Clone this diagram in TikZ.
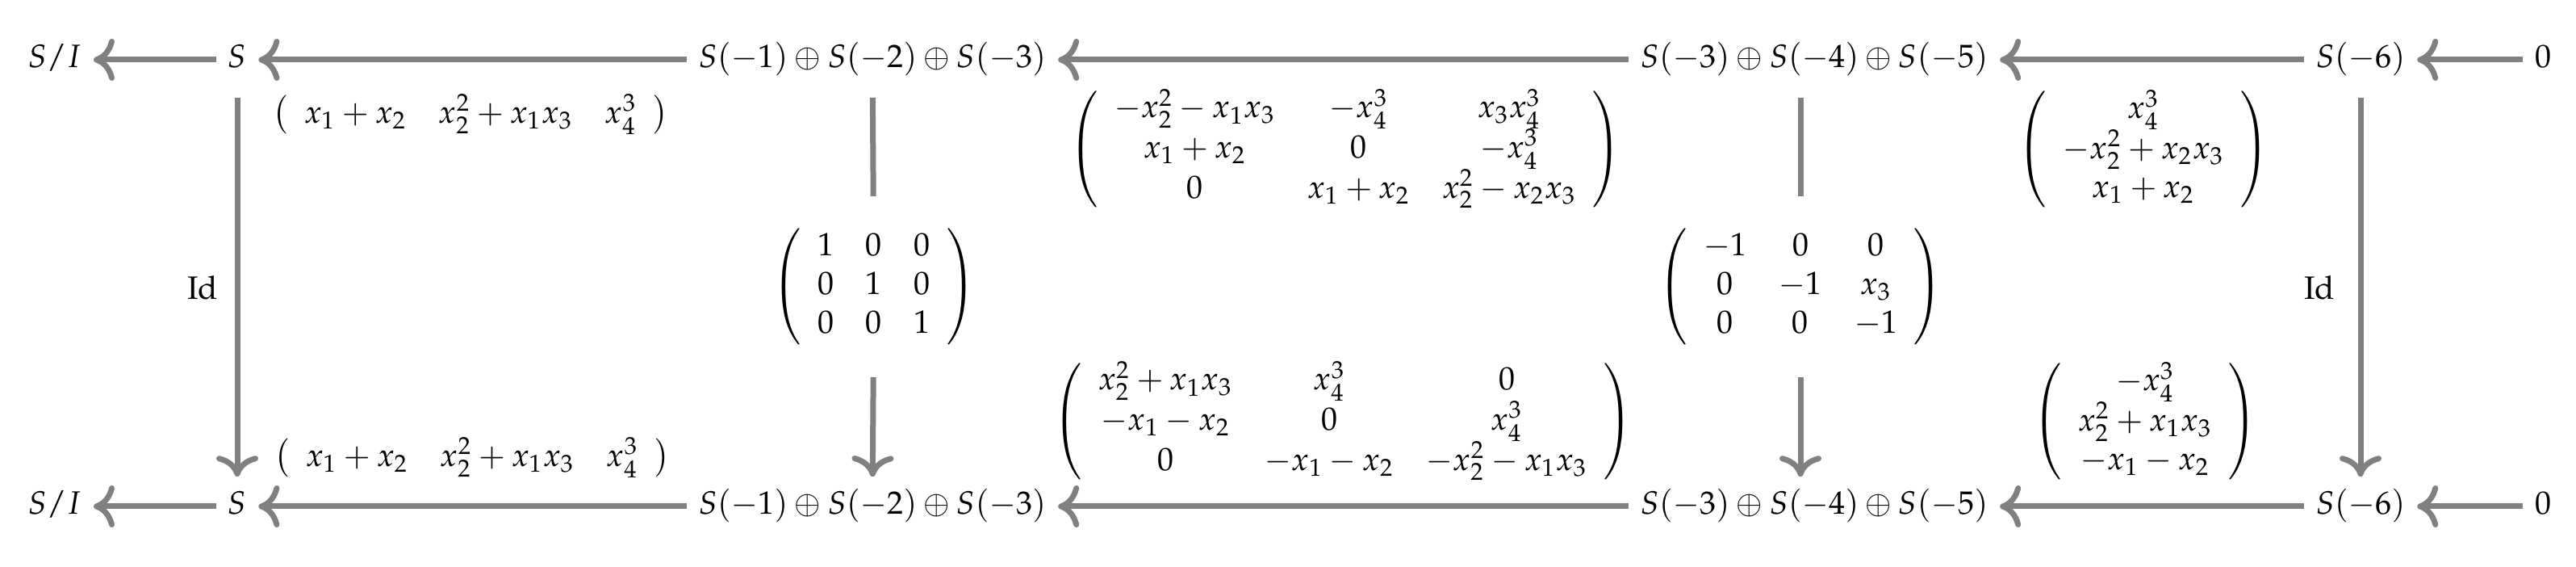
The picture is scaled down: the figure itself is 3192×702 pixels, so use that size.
\documentclass[tikz,border=0pt]{standalone}
\usepackage{amsmath,amssymb}
\usepackage[T1]{fontenc}
\usepackage{mathpazo}
\usetikzlibrary{arrows.meta,positioning,calc}

\begin{document}
\begin{tikzpicture}[x=0.25pt,y=0.25pt,
    >={Computer Modern Rightarrow[length=6.5pt,width=13pt]},
    map/.style={draw=gray,line width=1.75pt},
    obj/.style={text height=8pt,text depth=3pt,inner sep=3.5pt},
    lbl/.style={inner sep=0pt},
    mat/.style={inner sep=0pt,outer sep=10pt}]
  \useasboundingbox (0,0) rectangle (3192,-702);
  % top row
  \node[obj] (t0) at (68,-74) {$S/I$};
  \node[obj] (t1) at (294,-74) {$S$};
  \node[obj] (t2) at (1081,-74) {$S(-1)\oplus S(-2)\oplus S(-3)$};
  \node[obj] (t3) at (2248,-74) {$S(-3)\oplus S(-4)\oplus S(-5)$};
  \node[obj] (t4) at (2925,-74) {$S(-6)$};
  \node[obj] (t5) at (3151,-74) {$0$};
  % bottom row
  \node[obj] (b0) at (68,-627) {$S/I$};
  \node[obj] (b1) at (294,-627) {$S$};
  \node[obj] (b2) at (1081,-627) {$S(-1)\oplus S(-2)\oplus S(-3)$};
  \node[obj] (b3) at (2248,-627) {$S(-3)\oplus S(-4)\oplus S(-5)$};
  \node[obj] (b4) at (2925,-627) {$S(-6)$};
  \node[obj] (b5) at (3151,-627) {$0$};
  % horizontal maps
  \foreach \a/\b in {t1/t0,t2/t1,t3/t2,t4/t3,t5/t4,b1/b0,b2/b1,b3/b2,b4/b3,b5/b4}
    \draw[map,->] (\a) -- (\b);
  \node[lbl] (dt1) at (583,-142) {$\left(\begin{array}{ccc} x_1+x_2 & x_2^2+x_1x_3 & x_4^3 \end{array}\right)$};
  \node[lbl] (dt2) at (1667,-185) {$\left(\begin{array}{ccc} -x_2^2-x_1x_3 & -x_4^3 & x_3x_4^3\\ x_1+x_2 & 0 & -x_4^3\\ 0 & x_1+x_2 & x_2^2-x_2x_3 \end{array}\right)$};
  \node[lbl] (dt3) at (2656,-185) {$\left(\begin{array}{c} x_4^3\\ -x_2^2+x_2x_3\\ x_1+x_2 \end{array}\right)$};
  \node[lbl] (db1) at (585,-567) {$\left(\begin{array}{ccc} x_1+x_2 & x_2^2+x_1x_3 & x_4^3 \end{array}\right)$};
  \node[lbl] (db2) at (1664,-522) {$\left(\begin{array}{ccc} x_2^2+x_1x_3 & x_4^3 & 0\\ -x_1-x_2 & 0 & x_4^3\\ 0 & -x_1-x_2 & -x_2^2-x_1x_3 \end{array}\right)$};
  \node[lbl] (db3) at (2658,-522) {$\left(\begin{array}{c} -x_4^3\\ x_2^2+x_1x_3\\ -x_1-x_2 \end{array}\right)$};
  % vertical maps
  \draw[map,->,shorten <=2.5pt] (t1) -- (b1);
  \node[lbl] (id1) at (251,-356) {$\mathrm{Id}$};
  \draw[map,->,shorten <=2.5pt] (t4) -- (b4);
  \node[lbl] (id4) at (2874,-356) {$\mathrm{Id}$};
  \node[mat] (v2) at (1083,-355) {$\left(\begin{array}{ccc} 1 & 0 & 0\\ 0 & 1 & 0\\ 0 & 0 & 1 \end{array}\right)$};
  \draw[map,shorten <=2.5pt] (t2) -- (v2);
  \draw[map,->] (v2) -- (b2);
  \node[mat] (v3) at (2231,-355) {$\left(\begin{array}{ccc} -1 & 0 & 0\\ 0 & -1 & x_3\\ 0 & 0 & -1 \end{array}\right)$};
  \draw[map,shorten <=2.5pt] (t3.south -| v3) -- (v3);
  \draw[map,->] (v3) -- (b3.north -| v3);
\end{tikzpicture}
\end{document}
